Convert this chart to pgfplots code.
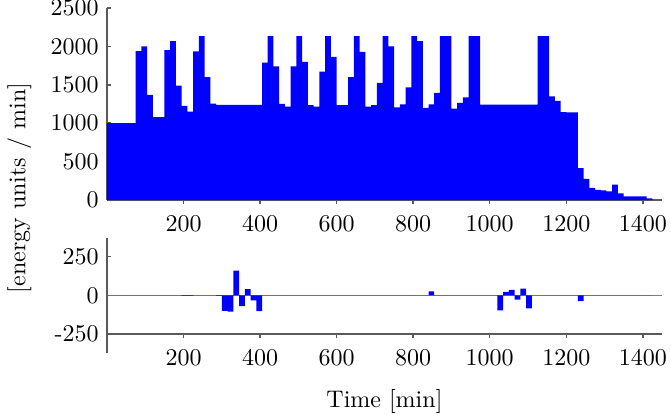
\documentclass[border=0pt]{standalone}
\usepackage{pgfplots}
\pgfplotsset{compat=1.18}
\pgfplotstableread{
t v
0 1000
15 1000
30 1000
45 1000
60 1000
75 1940
90 2000
105 1370
120 1080
135 1080
150 1950
165 2070
180 1490
195 1225
210 1150
225 1935
240 2135
255 1600
270 1255
285 1240
300 1240
315 1240
330 1240
345 1240
360 1240
375 1240
390 1240
405 1790
420 2135
435 1740
450 1250
465 1215
480 1740
495 2135
510 1800
525 1235
540 1215
555 1670
570 2135
585 1865
600 1235
615 1235
630 1600
645 2135
660 1930
675 1215
690 1235
705 1525
720 2135
735 2000
750 1205
765 1245
780 1465
795 2135
810 2070
825 1200
840 1245
855 1395
870 2135
885 2135
900 1190
915 1265
930 1335
945 2135
960 2135
975 1243
990 1243
1005 1243
1020 1243
1035 1243
1050 1243
1065 1243
1080 1243
1095 1243
1110 1243
1125 2135
1140 2135
1155 1350
1170 1290
1185 1145
1200 1140
1215 1140
1230 415
1245 275
1260 157
1275 131
1290 125
1305 113
1320 200
1335 86
1350 47
1365 47
1380 47
1395 47
1410 21
1425 21
}\toptable
\pgfplotstableread{
t v
0 0
195 -4
225 0
285 -4
300 -100
315 -106
330 160
345 -70
360 41
375 -32
390 -102
405 0
840 26
855 0
1020 -98
1035 22
1050 36
1065 -28
1080 43
1095 -85
1110 0
1230 -38
1245 0
1425 0
}\bottable
\begin{document}
\begin{tikzpicture}
\path[use as bounding box] (-44.58pt,-89.17pt) rectangle (235pt,83.33pt);
\pgfplotsset{
  myaxis/.style={
    scale only axis, width=231.25pt, xmin=0, xmax=1450,
    axis x line*=bottom, axis y line*=left,
    axis line style={black!65, line width=0.6pt},
    tick style={black!65, line width=0.6pt},
    major tick length=1.5pt,
    xtick align=outside, ytick align=inside,
    xtick={200,400,...,1400},
    /pgf/number format/1000 sep={},
  }
}
\begin{axis}[myaxis, at={(0pt,0pt)}, anchor=south west, height=80pt,
  ymin=0, ymax=2500, ytick={0,500,...,2500},
  xticklabel style={yshift=-1.5pt}]
\addplot[const plot, fill=blue, draw=none] table[x=t,y=v] {\toptable} \closedcycle;
\end{axis}
\begin{axis}[myaxis, at={(0pt,-55.83pt)}, anchor=south west, height=32.2pt,
  ymin=-250, ymax=250, ytick={-250,0,250},
  yticklabels={\textrm{-250},0,250},
  xticklabel style={yshift=-1.5pt}]
\addplot[gray, line width=0.6pt] coordinates {(0,0) (1450,0)};
\addplot[const plot, fill=blue, draw=none] table[x=t,y=v] {\bottable} \closedcycle;
\end{axis}
\draw[black!65, line width=0.6pt] (0pt,-63.75pt) -- (0pt,-15.83pt);
\draw[black!65, line width=0.6pt] (0pt,-55.83pt) -- (231.25pt,-55.83pt);
\node[rotate=90] at (-36.5pt,5pt) {[energy units / min]};
\node at (115.6pt,-83.75pt) {Time [min]};
\end{tikzpicture}
\end{document}
